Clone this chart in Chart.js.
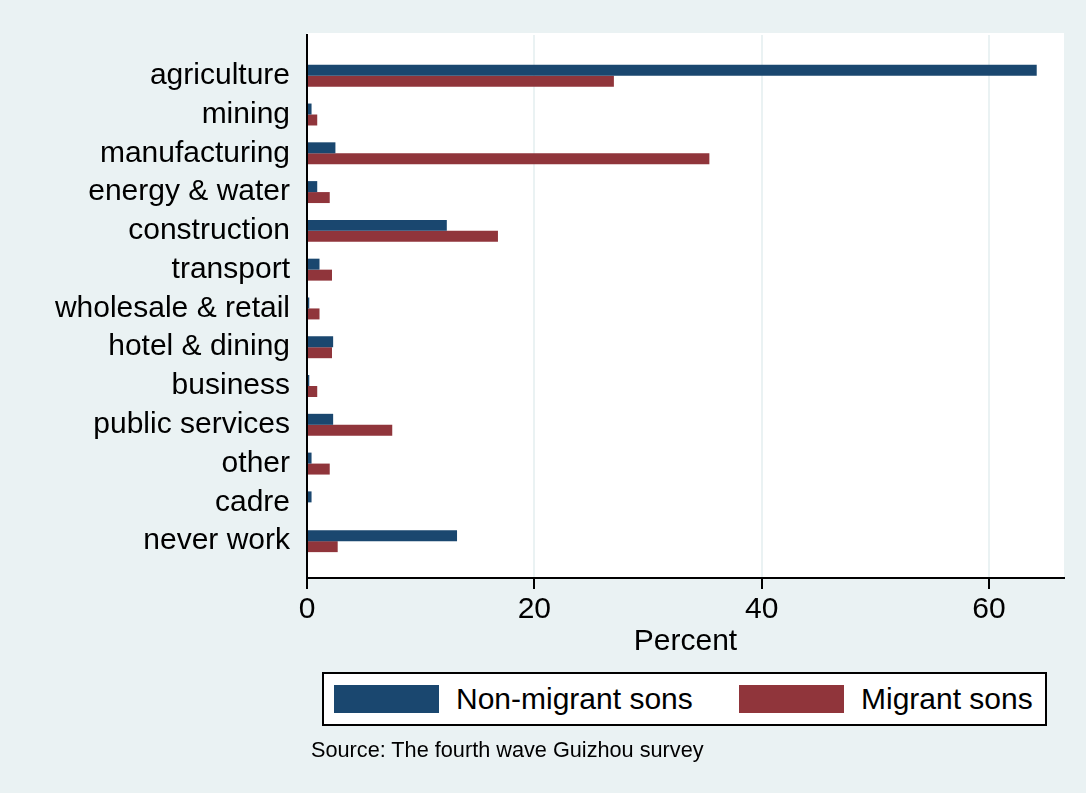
<!DOCTYPE html>
<html>
<head>
<meta charset="utf-8">
<script src="https://cdn.jsdelivr.net/npm/chart.js@4/dist/chart.umd.min.js"></script>
<style>
    body { margin: 0; background: #EAF2F3; }
    #wrap { position: relative; width: 1086px; height: 793px; background: #EAF2F3; font-family: "Liberation Sans", Arial, sans-serif; }
    #chart { position: absolute; left: 0; top: 0; }
    #legend { position: absolute; left: 322px; top: 672px; width: 721px; height: 50px; background: #fff; border: 2px solid #000; }
    .item { position: absolute; top: 0; height: 50px; display: flex; align-items: center; font-size: 30px; color: #000; }
    .swatch { width: 105px; height: 28px; margin-right: 17px; }
    #source { position: absolute; left: 311px; top: 737px; font-size: 21.7px; color: #000; }
</style>
</head>
<body>
<div id="wrap">
    <canvas id="chart" width="1086" height="793"></canvas>
    <div id="legend"></div>
    <div id="source">Source: The fourth wave Guizhou survey</div>
</div>
<script>
const categories = ['agriculture', 'mining', 'manufacturing', 'energy & water', 'construction',
    'transport', 'wholesale & retail', 'hotel & dining', 'business', 'public services',
    'other', 'cadre', 'never work'];
const nonMigrant = [64.2, 0.4, 2.5, 0.9, 12.3, 1.1, 0.2, 2.3, 0.2, 2.3, 0.4, 0.4, 13.2];
const migrant = [27.0, 0.9, 35.4, 2.0, 16.8, 2.2, 1.1, 2.2, 0.9, 7.5, 2.0, 0, 2.7];
const seriesNames = ['Non-migrant sons', 'Migrant sons'];
const seriesColors = ['#1A476F', '#90353B'];
const xTicks = [0, 20, 40, 60];

const FONT = '"Liberation Sans", Arial, sans-serif';

// white plot region
const plotBg = {
    id: 'plotBg',
    beforeDraw(chart) {
        const { ctx, chartArea: a } = chart;
        ctx.save();
        ctx.fillStyle = '#ffffff';
        ctx.fillRect(a.left, a.top - 2, a.right - a.left, a.bottom - a.top + 2);
        ctx.restore();
    }
};

const toPoints = arr => arr.map((v, i) => ({ x: v, y: i }));

new Chart(document.getElementById('chart'), {
    type: 'bar',
    data: {
        datasets: [
            { label: seriesNames[0], data: toPoints(nonMigrant), backgroundColor: seriesColors[0] },
            { label: seriesNames[1], data: toPoints(migrant), backgroundColor: seriesColors[1] }
        ]
    },
    options: {
        indexAxis: 'y',
        responsive: false,
        animation: false,
        categoryPercentage: 0.566,
        barPercentage: 1.0,
        layout: { padding: { top: 33, right: 22, bottom: 133, left: 0 } },
        plugins: {
            legend: { display: false },
            tooltip: { enabled: false }
        },
        scales: {
            x: {
                type: 'linear',
                min: 0,
                max: 66.6,
                afterBuildTicks: s => { s.ticks = xTicks.map(v => ({ value: v })); },
                afterFit: s => { s.height = 82; },
                grid: { color: '#EAF2F3', lineWidth: 2, tickColor: '#000', tickLength: 11, tickWidth: 2 },
                border: { color: '#000', width: 2 },
                ticks: { color: '#000', font: { family: FONT, size: 30 }, padding: 3, maxRotation: 0 },
                title: { display: true, text: 'Percent', color: '#000', font: { family: FONT, size: 30 }, padding: 0 }
            },
            y: {
                type: 'linear',
                reverse: true,
                offset: false,
                min: -1.05,
                max: 12.95,
                afterBuildTicks: s => { s.ticks = categories.map((c, i) => ({ value: i })); },
                afterFit: s => { s.width = 307; },
                grid: { display: false, drawTicks: false },
                border: { color: '#000', width: 2 },
                ticks: {
                    color: '#000',
                    font: { family: FONT, size: 30 },
                    padding: 17,
                    autoSkip: false,
                    callback: v => categories[v]
                }
            }
        }
    },
    plugins: [plotBg]
});

// legend
const legend = document.getElementById('legend');
const legendX = [10, 415];
seriesNames.forEach((name, i) => {
    const item = document.createElement('div');
    item.className = 'item';
    item.style.left = legendX[i] + 'px';
    item.innerHTML = `<span class="swatch" style="background:${seriesColors[i]}"></span>${name}`;
    legend.appendChild(item);
});
</script>
</body>
</html>
